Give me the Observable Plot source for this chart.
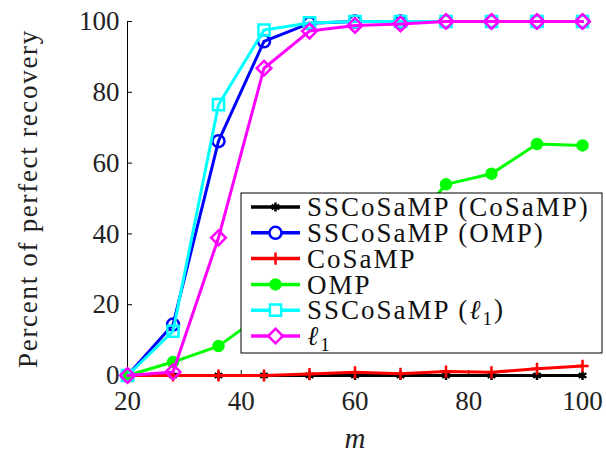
<!DOCTYPE html>
<html>
<head>
<meta charset="utf-8">
<script src="https://cdn.jsdelivr.net/npm/d3@7"></script>
<script src="https://cdn.jsdelivr.net/npm/@observablehq/plot@0.6"></script>
<style>
  html, body { margin: 0; padding: 0; background: #fff; }
  #chart svg { display: block; }
  #chart svg text { font-family: "Liberation Serif", serif !important; }
</style>
</head>
<body>
<div id="chart"></div>
<script>
// ---- data ----
const m = [20, 28, 36, 44, 52, 60, 68, 76, 84, 92, 100];
const sscosampCosamp = [0, 0, 0, 0, 0, 0, 0, 0, 0, 0, 0];
const sscosampOmp = [0, 14.4, 66.2, 94.4, 99.5, 100, 100, 100, 100, 100, 100];
const cosamp = [0, 0, 0, 0, 0.4, 0.9, 0.5, 1.1, 0.9, 1.9, 2.7];
const omp = [0, 3.8, 8.3, 17.6, 26, 33, 39, 54, 57, 65.4, 65];
const sscosampL1 = [0, 12.5, 76.5, 97.6, 99.6, 100, 100, 100, 100, 100, 100];
const l1 = [0, 1, 38.9, 86.8, 97.3, 98.9, 99.3, 100, 100, 100, 100];

const seriesNames = ["SSCoSaMP (CoSaMP)", "SSCoSaMP (OMP)", "CoSaMP", "OMP", "SSCoSaMP (ℓ1)", "ℓ1"];
const seriesValues = [sscosampCosamp, sscosampOmp, cosamp, omp, sscosampL1, l1];
const seriesColors = ["#000000", "#0000ff", "#ff0000", "#00ff00", "#00ffff", "#ff00ff"];
const seriesSymbols = ["asterisk", "circle", "plus", "circle", "square", "diamond2"];
const seriesFilled = [false, false, false, true, false, false];
const seriesR = [4.2, 6, 4, 5, 6.3, 6.6];

const xTicks = [20, 40, 60, 80, 100];
const yTicks = [0, 20, 40, 60, 80, 100];
const xLabel = "m";
const yLabel = "Percent of perfect recovery";

const W = 606, H = 452;
const mL = 127, mR = 24, mT = 21, mB = 77;
const FONT = "Liberation Serif";

const marks = [];
marks.push(Plot.ruleX([20], {stroke: "#000", strokeWidth: 1}));
marks.push(Plot.ruleY([0], {stroke: "#000", strokeWidth: 1}));
marks.push(Plot.tickY(yTicks, {y: d => d, stroke: "#000", insetRight: (W - mL - mR) - 5}));
marks.push(Plot.tickX(xTicks, {x: d => d, stroke: "#000", insetTop: (H - mT - mB) - 5}));

seriesValues.forEach((vals, i) => {
  const rows = m.map((x, j) => ({x, y: vals[j]}));
  marks.push(Plot.line(rows, {x: "x", y: "y", stroke: seriesColors[i], strokeWidth: 3}));
  marks.push(Plot.dot(rows, {
    x: "x", y: "y", symbol: seriesSymbols[i], r: seriesR[i],
    stroke: seriesColors[i], strokeWidth: 2.5,
    fill: seriesFilled[i] ? seriesColors[i] : "none"
  }));
});

marks.push(Plot.axisY(yTicks, {tickSize: 0, tickPadding: 8, fontSize: 27, fill: "#222", label: null}));
marks.push(Plot.axisX(xTicks, {tickSize: 0, tickPadding: 15, fontSize: 27, fill: "#222", label: null}));
marks.push(Plot.text([yLabel], {frameAnchor: "left", textAnchor: "middle", lineAnchor: "middle", rotate: -90, dx: -99, fontSize: 27, text: d => d, fill: "#222"}));
marks.push(Plot.text([xLabel], {frameAnchor: "bottom", textAnchor: "middle", dy: 72, fontSize: 29, fontStyle: "italic", text: d => d, fill: "#222"}));

const chart = Plot.plot({
  width: W, height: H,
  marginLeft: mL, marginRight: mR, marginTop: mT, marginBottom: mB,
  x: {domain: [20, 100]},
  y: {domain: [0, 100]},
  style: {fontFamily: FONT, fontSize: "27px", color: "#222", background: "#fff", overflow: "visible"},
  marks
});
document.getElementById("chart").appendChild(chart);

const svg = d3.select(chart);
svg.attr("font-family", FONT);
svg.selectAll("text").attr("font-family", FONT);
svg.selectAll("text").filter(function() { return this.textContent === yLabel; })
  .style("letter-spacing", "1.7px");

// ---- legend (drawn over the plot) ----
const lg = svg.append("g").attr("text-anchor", "start").attr("font-family", FONT);
const boxX = 241, boxY = 193, boxW = 361, boxH = 160, rowH = 25.8, row0 = 207;
lg.append("rect").attr("x", boxX).attr("y", boxY).attr("width", boxW).attr("height", boxH)
  .attr("fill", "#fff").attr("stroke", "#000").attr("stroke-width", 1);
const symMap = {asterisk: d3.symbolAsterisk, circle: d3.symbolCircle, plus: d3.symbolPlus, square: d3.symbolSquare, diamond2: d3.symbolDiamond2};
seriesNames.forEach((name, i) => {
  const cy = row0 + i * rowH;
  lg.append("line").attr("x1", 251).attr("x2", 300).attr("y1", cy).attr("y2", cy)
    .attr("stroke", seriesColors[i]).attr("stroke-width", 3.5);
  lg.append("path").attr("transform", `translate(275.5,${cy})`)
    .attr("d", d3.symbol(symMap[seriesSymbols[i]], Math.PI * seriesR[i] * seriesR[i])())
    .attr("stroke", seriesColors[i]).attr("stroke-width", 2.5)
    .attr("fill", seriesFilled[i] ? seriesColors[i] : "#fff");
  const t = lg.append("text").attr("x", 307).attr("y", cy).attr("dy", "0.34em")
    .attr("fill", "#111").attr("font-family", FONT).attr("font-size", 27)
    .style("letter-spacing", "2px");
  if (name.includes("ℓ1")) {
    const parts = name.split("ℓ1");
    t.append("tspan").text(parts[0]);
    t.append("tspan").attr("font-style", "italic").text("ℓ");
    t.append("tspan").attr("font-size", 19).attr("dy", "0.3em").text("1");
    if (parts[1]) t.append("tspan").attr("dy", "-0.25em").text(parts[1]);
  } else {
    t.text(name);
  }
});
</script>
</body>
</html>
